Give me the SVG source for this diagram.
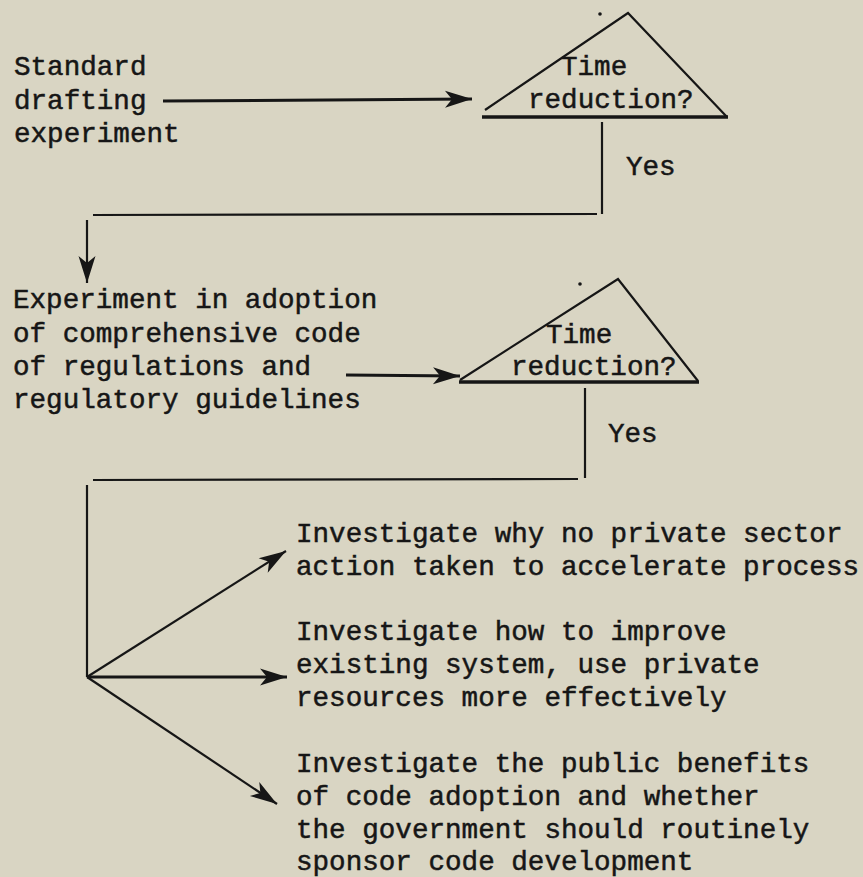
<svg xmlns="http://www.w3.org/2000/svg" width="863" height="877" viewBox="0 0 863 877">
  <style>
    .t { font-family: "Liberation Mono", "Courier New", monospace; font-size: 27.6px; fill: #161616; stroke: #161616; stroke-width: 0.5px; }
    .ln { stroke: #161616; fill: none; stroke-linecap: butt; }
    .w2 { stroke-width: 2.2; }
    .w3 { stroke-width: 3; }
  </style>
  <defs>
    <marker id="ah" markerUnits="userSpaceOnUse" markerWidth="30" markerHeight="20" viewBox="-28 -10 30 20" refX="0" refY="0" orient="auto">
      <path d="M0,0 L-27,-8.5 L-20,0 L-27,8.5 Z" fill="#161616"/>
    </marker>
  </defs>
  <rect x="0" y="0" width="863" height="877" fill="#d9d5c3"/>

  <g id="start">
    <text class="t" x="14" y="75">Standard</text>
    <text class="t" x="14" y="108.5">drafting</text>
    <text class="t" x="14" y="142">experiment</text>
  </g>

  <g id="decision1">
    <path class="ln w2" d="M485,110 L628,13 L727,117"/>
    <path class="ln" stroke-width="3.5" d="M482,117 L728,117"/>
    <circle cx="600" cy="14" r="1.8" fill="#161616"/>
    <text class="t" x="561" y="75">Time</text>
    <text class="t" x="528" y="108">reduction?</text>
  </g>

  <g id="adoption">
    <text class="t" x="13" y="308">Experiment in adoption</text>
    <text class="t" x="13" y="342">of comprehensive code</text>
    <text class="t" x="13" y="375">of regulations and</text>
    <text class="t" x="13" y="408">regulatory guidelines</text>
  </g>

  <g id="decision2">
    <path class="ln w2" d="M460,380 L618,279 L698,381"/>
    <path class="ln" stroke-width="3.5" d="M459,382 L699,382"/>
    <circle cx="580" cy="284" r="1.8" fill="#161616"/>
    <text class="t" x="546" y="343">Time</text>
    <text class="t" x="511" y="375">reduction?</text>
  </g>

  <g id="outcome1">
    <text class="t" x="296" y="542">Investigate why no private sector</text>
    <text class="t" x="296" y="575">action taken to accelerate process</text>
  </g>

  <g id="outcome2">
    <text class="t" x="296" y="640">Investigate how to improve</text>
    <text class="t" x="296" y="673">existing system, use private</text>
    <text class="t" x="296" y="706">resources more effectively</text>
  </g>

  <g id="outcome3">
    <text class="t" x="296" y="772">Investigate the public benefits</text>
    <text class="t" x="296" y="805">of code adoption and whether</text>
    <text class="t" x="296" y="838">the government should routinely</text>
    <text class="t" x="296" y="870">sponsor code development</text>
  </g>

  <g id="connectors">
    <line class="ln w3" x1="163" y1="101" x2="472" y2="99" marker-end="url(#ah)"/>
    <line class="ln w2" x1="602" y1="122" x2="602" y2="214"/>
    <text class="t" x="626" y="175">Yes</text>
    <line class="ln w2" x1="93" y1="215" x2="597" y2="214"/>
    <line class="ln w2" x1="87" y1="220" x2="87" y2="283" marker-end="url(#ah)"/>
    <line class="ln w3" x1="346" y1="375" x2="460" y2="376" marker-end="url(#ah)"/>
    <line class="ln w2" x1="585" y1="388" x2="585" y2="478"/>
    <text class="t" x="608" y="442">Yes</text>
    <line class="ln w2" x1="93" y1="480" x2="578" y2="479"/>
    <line class="ln w2" x1="87" y1="485" x2="87" y2="677"/>
    <line class="ln w2" x1="87" y1="677" x2="286" y2="551" marker-end="url(#ah)"/>
    <line class="ln w3" x1="87" y1="677" x2="287" y2="677" marker-end="url(#ah)"/>
    <line class="ln w2" x1="87" y1="677" x2="277" y2="804" marker-end="url(#ah)"/>
  </g>
</svg>
